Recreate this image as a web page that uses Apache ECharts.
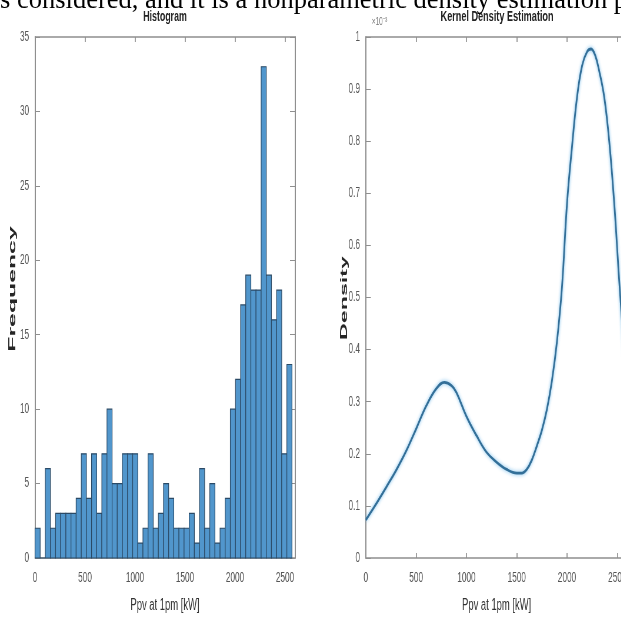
<!DOCTYPE html>
<html>
<head>
<meta charset="utf-8">
<script src="https://cdn.jsdelivr.net/npm/echarts@6/dist/echarts.min.js"></script>
<style>
  html, body { margin: 0; padding: 0; background: #fff; overflow: hidden; width: 621px; height: 623px; }
  /* the source figure was squeezed sideways, so the chart is drawn wide and scaled down */
  #main { position: absolute; left: 0; top: 0; width: 1068px; height: 623px; transform: scaleX(0.5882); transform-origin: 0 0; }
  #caption { position: absolute; left: 0; top: -13.7px; font: 26.5px/26.5px 'Liberation Serif', 'DejaVu Serif', serif; color: #000; white-space: nowrap; }
</style>
</head>
<body>
<div id="main"></div>
<div id="caption">s considered, and it is a nonparametric density estimation p</div>
<script>
// histogram counts, one per bin (Ppv at 1pm)
const histCounts = [2, 0, 6, 2, 3, 3, 3, 3, 4, 7,
  4, 7, 3, 7, 10, 5, 5, 7, 7, 7,
  1, 2, 7, 2, 3, 5, 4, 2, 2, 2,
  3, 1, 6, 2, 5, 1, 2, 4, 10, 12,
  17, 19, 18, 18, 33, 19, 16, 18, 7, 13]
const binStart = 0
const binWidth = 51.4

// kernel density estimate (x10^-3)
const kdeX = [0, 100, 200, 300, 400, 500, 600, 700, 780, 850, 900, 1000, 1100, 1200, 1300, 1400, 1500, 1550, 1600, 1650,
  1700, 1750, 1800, 1850, 1900, 1950, 2000, 2050, 2100, 2150, 2200, 2240, 2280, 2320, 2370, 2420, 2470, 2520, 2570, 2600]
const kdeY = [0.073, 0.103, 0.135, 0.168, 0.205, 0.248, 0.292, 0.325, 0.337, 0.331, 0.318, 0.272, 0.235, 0.203, 0.184, 0.17, 0.163, 0.163, 0.17, 0.188,
  0.215, 0.245, 0.285, 0.34, 0.415, 0.52, 0.68, 0.79, 0.885, 0.945, 0.972, 0.977, 0.965, 0.935, 0.885, 0.8, 0.68, 0.53, 0.39, 0.3]

const histTicks = { min: 0, max: 35, interval: 5 }
const densTicks = { min: 0, max: 1, interval: 0.1 }
const ppvTicks = { min: 0, max: 2600, interval: 500 }

const chart = echarts.init(document.getElementById('main'))

const font = 'Liberation Sans, Arial, sans-serif'
const axisGray = '#8f8f8f'

function xAx(grid, pos, withLabels) {
  return {
    gridIndex: grid,
    type: 'value',
    position: pos,
    min: ppvTicks.min,
    max: ppvTicks.max,
    interval: ppvTicks.interval,
    axisLine: { show: true, onZero: false, lineStyle: { color: axisGray, width: 1.5 } },
    axisTick: { show: true, inside: true, length: 5, lineStyle: { color: axisGray, width: 1.7 } },
    axisLabel: { show: withLabels, color: '#555', fontSize: 14, fontFamily: font, margin: 13, showMaxLabel: false, formatter: v => '' + v },
    splitLine: { show: false },
    name: withLabels ? 'Ppv at 1pm [kW]' : '',
    nameLocation: 'middle',
    nameGap: 40,
    nameMoveOverlap: false,
    nameTextStyle: { color: '#333', fontSize: 16, fontFamily: font },
  }
}

function yAx(grid, pos, ticks, label) {
  return {
    gridIndex: grid,
    type: 'value',
    position: pos,
    min: ticks.min,
    max: ticks.max,
    interval: ticks.interval,
    axisLine: { show: true, onZero: false, lineStyle: { color: axisGray, width: 2 } },
    axisTick: { show: true, inside: true, length: 8.5, lineStyle: { color: axisGray, width: 1 } },
    axisLabel: { show: label, color: '#555', fontSize: 14, fontFamily: font, margin: 10, formatter: v => '' + v },
    splitLine: { show: false },
  }
}

// y titles are stretched along their length in the source, so they are drawn as scaled text
function yTitle(text, x, y, stretch) {
  return {
    type: 'text', x: x, y: y, rotation: Math.PI / 2, scaleX: stretch,
    style: { text: text, align: 'center', verticalAlign: 'middle', fontSize: 16, fontWeight: 'bold', fontFamily: font, fill: '#262626' },
  }
}

chart.setOption({
  animation: false,
  grid: [
    { left: 59.5, top: 37, width: 442, height: 521 },
    { left: 622, top: 37, width: 446, height: 521 },
  ],
  xAxis: [
    xAx(0, 'bottom', true),
    xAx(0, 'top', false),
    xAx(1, 'bottom', true),
    xAx(1, 'top', false),
  ],
  yAxis: [
    yAx(0, 'left', histTicks, true),
    yAx(0, 'right', histTicks, false),
    yAx(1, 'left', densTicks, true),
  ],
  graphic: [
    { type: 'text', x: 280.5, y: 17, style: { text: 'Histogram', align: 'center', verticalAlign: 'middle', fontSize: 15, fontWeight: 'bold', fontFamily: font, fill: '#222' } },
    { type: 'text', x: 845, y: 17, style: { text: 'Kernel Density Estimation', align: 'center', verticalAlign: 'middle', fontSize: 15.5, fontWeight: 'bold', fontFamily: font, fill: '#222' } },
    { type: 'text', x: 632, y: 27, style: { text: '×10⁻³', align: 'left', verticalAlign: 'bottom', fontSize: 11, fontFamily: font, fill: '#777' } },
    yTitle('Frequency', 22, 289, 1.55),
    yTitle('Density', 586, 298, 1.45),
  ],
  series: [
    {
      type: 'custom',
      xAxisIndex: 0,
      yAxisIndex: 0,
      encode: { x: [0, 1], y: 2 },
      data: histCounts.map((c, i) => [binStart + i * binWidth, binStart + (i + 1) * binWidth, c]),
      renderItem(params, api) {
        const p0 = api.coord([api.value(0), api.value(2)])
        const p1 = api.coord([api.value(1), 0])
        return {
          type: 'rect',
          shape: { x: p0[0], y: p0[1], width: p1[0] - p0[0], height: p1[1] - p0[1] },
          style: { fill: '#5196cc', stroke: '#2b4a66', lineWidth: 1.2 },
        }
      },
    },
    {
      type: 'line',
      xAxisIndex: 2,
      yAxisIndex: 2,
      data: kdeX.map((x, i) => [x, kdeY[i]]),
      smooth: 0.4,
      showSymbol: false,
      lineStyle: { color: '#336f98', width: 2.8, shadowColor: 'rgba(80,170,230,0.8)', shadowBlur: 4 },
    },
  ],
})
</script>
</body>
</html>
